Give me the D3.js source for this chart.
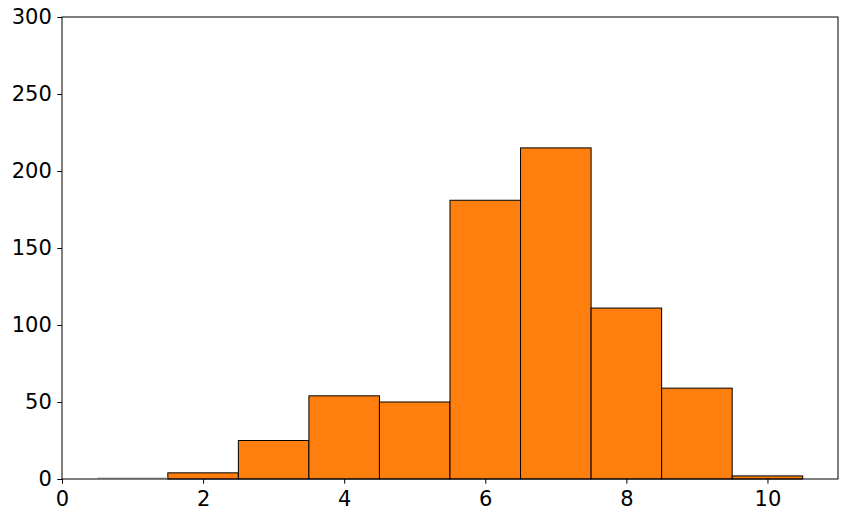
<!DOCTYPE html>
<html><head><meta charset="utf-8">
<script src="https://cdn.jsdelivr.net/npm/d3@7"></script>
<style>body{margin:0;background:#fff}svg{display:block}</style>
</head><body>
<svg id="c" width="847" height="519"></svg>
<script>
const binStarts = [0.5,1.5,2.5,3.5,4.5,5.5,6.5,7.5,8.5,9.5];
const counts = [0,4,25,54,50,181,215,111,59,2];
const xTicks = [0,2,4,6,8,10];
const yTicks = [0,50,100,150,200,250,300];

const svg = d3.select("#c");
const m = {l:62,r:9,t:17,b:40};
const W = 847, H = 519;
const x = d3.scaleLinear().domain([0,11]).range([m.l, W-m.r]);
const y = d3.scaleLinear().domain([0,300]).range([H-m.b, m.t]);

const bars = binStarts.map((d,i)=>({s:d,c:counts[i]}));
svg.append("g").selectAll("rect").data(bars.filter(b=>b.c>0)).join("rect")
  .attr("x", d=>x(d.s))
  .attr("width", d=>x(d.s+1)-x(d.s))
  .attr("y", d=>y(d.c))
  .attr("height", d=>y(0)-y(d.c))
  .attr("fill","#ff7f0e").attr("stroke","#000").attr("stroke-width",1);
svg.append("g").selectAll("line").data(bars.filter(b=>b.c===0)).join("line")
  .attr("x1", d=>x(d.s)).attr("x2", d=>x(d.s+1))
  .attr("y1", y(0)-1).attr("y2", y(0)-1)
  .attr("stroke","#aaa").attr("stroke-width",1);

const gx = svg.append("g").attr("transform",`translate(0,${H-m.b})`)
  .call(d3.axisBottom(x).tickValues(xTicks).tickFormat(d3.format("d")).tickSize(4.7).tickPadding(7.5));
const gy = svg.append("g").attr("transform",`translate(${m.l},0)`)
  .call(d3.axisLeft(y).tickValues(yTicks).tickFormat(d3.format("d")).tickSize(4.7).tickPadding(5.5));
[gx,gy].forEach(g=>{
  g.select(".domain").remove();
  g.selectAll("text").attr("font-family","DejaVu Sans").attr("font-size","21px").attr("fill","#000");
  g.selectAll("line").attr("stroke","#000");
});
svg.append("rect").attr("x",x(0)).attr("y",y(300)).attr("width",x(11)-x(0)).attr("height",y(0)-y(300))
  .attr("fill","none").attr("stroke","#000").attr("stroke-width",1);
</script>
</body></html>
